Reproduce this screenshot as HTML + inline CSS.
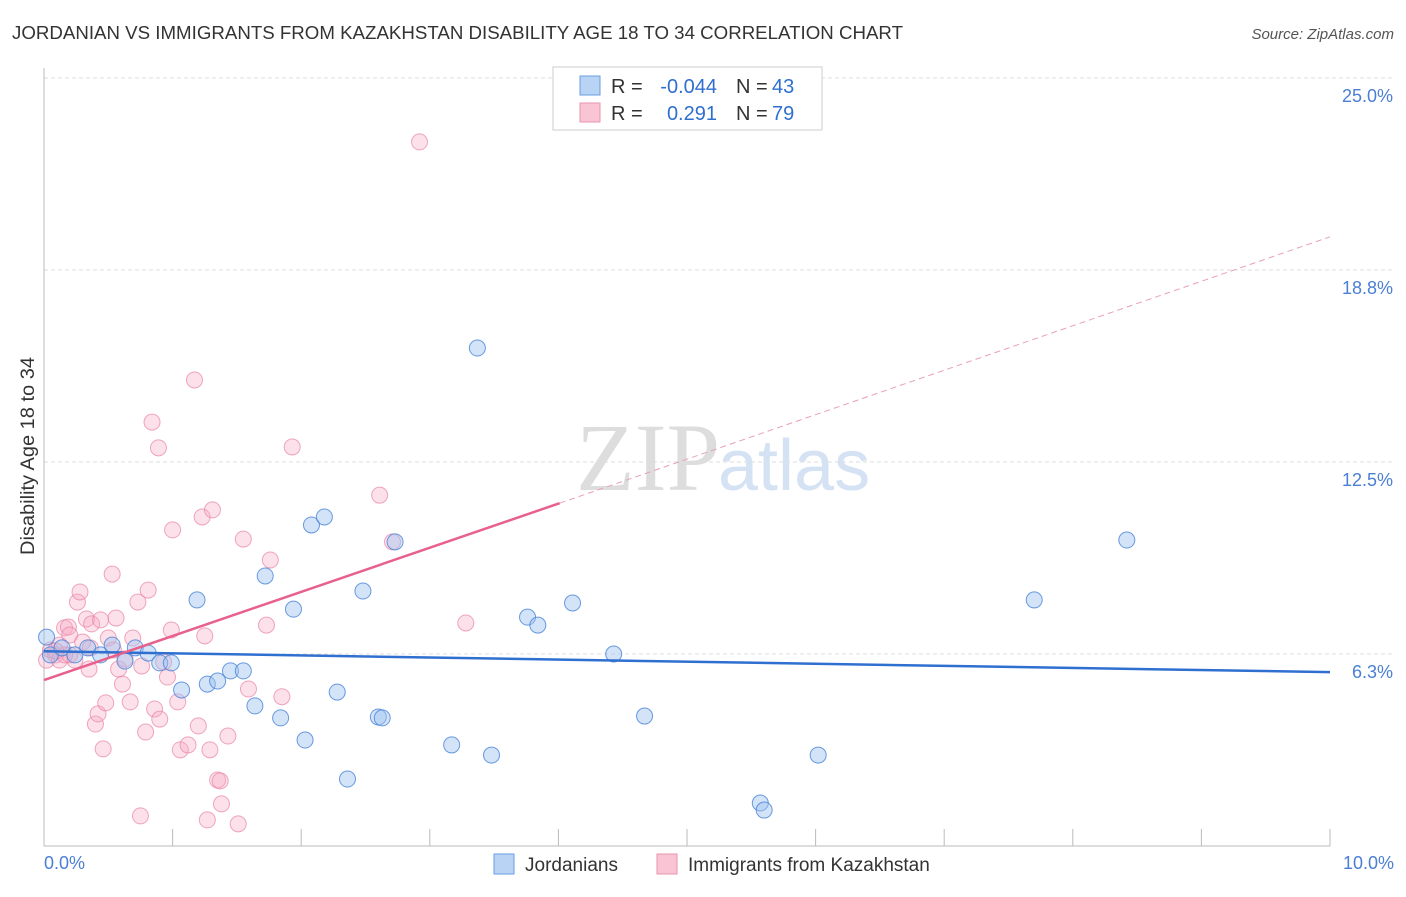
<!DOCTYPE html>
<html><head><meta charset="utf-8"><style>
body{margin:0;background:#fff;font-family:"Liberation Sans",sans-serif;}
</style></head><body>
<svg width="1406" height="892" xmlns="http://www.w3.org/2000/svg">
<text x="12" y="39" font-size="18" fill="#333" textLength="891" lengthAdjust="spacingAndGlyphs">JORDANIAN VS IMMIGRANTS FROM KAZAKHSTAN DISABILITY AGE 18 TO 34 CORRELATION CHART</text>
<text x="1394" y="39" font-size="15" fill="#555" font-style="italic" text-anchor="end">Source: ZipAtlas.com</text>
<g id="grid"></g>
<text x="720" y="490" font-size="96" fill="#ddd" text-anchor="end" font-family="Liberation Serif,serif">ZIP</text>
<text x="718" y="490" font-size="72" fill="#d4e2f4">atlas</text>
<line x1="44" y1="68" x2="44" y2="846" stroke="#bbb"/>
<line x1="44" y1="846" x2="1330" y2="846" stroke="#bbb"/>
<g id="ticks"></g>
<g id="pts"></g>
<g id="lines"></g>
<text x="34" y="456" font-size="19" fill="#333" transform="rotate(-90 34 456)" text-anchor="middle" textLength="198" lengthAdjust="spacingAndGlyphs">Disability Age 18 to 34</text>
<text x="44" y="869" font-size="18" fill="#4a7fd4">0.0%</text>
<text x="1394" y="869" font-size="18" fill="#4a7fd4" text-anchor="end">10.0%</text>
<g>
<rect x="553" y="67" width="269" height="63" fill="#fff" stroke="#ccc"/>
<rect x="580" y="76" width="20" height="19" fill="#b9d3f5" stroke="#6a9ee0"/>
<rect x="580" y="103" width="20" height="19" fill="#f9c4d3" stroke="#e893ad"/>
<text x="611" y="93" font-size="20" fill="#333">R =</text>
<text x="717" y="93" font-size="20" fill="#2f6fd0" text-anchor="end">-0.044</text>
<text x="736" y="93" font-size="20" fill="#333">N =</text>
<text x="772" y="93" font-size="20" fill="#2f6fd0">43</text>
<text x="611" y="120" font-size="20" fill="#333">R =</text>
<text x="717" y="120" font-size="20" fill="#2f6fd0" text-anchor="end">0.291</text>
<text x="736" y="120" font-size="20" fill="#333">N =</text>
<text x="772" y="120" font-size="20" fill="#2f6fd0">79</text>
</g>
<g>
<rect x="494" y="854" width="20" height="20" fill="#b9d3f5" stroke="#6a9ee0"/>
<text x="525" y="871" font-size="19" fill="#333">Jordanians</text>
<rect x="657" y="854" width="20" height="20" fill="#f9c4d3" stroke="#e893ad"/>
<text x="688" y="871" font-size="19" fill="#333">Immigrants from Kazakhstan</text>
</g>
</svg>
<script>
const yTicks=[6.25,12.5,18.75,25];
const yTickLabels=["6.3%","12.5%","18.8%","25.0%"];
const xTicks=[1,2,3,4,5,6,7,8,9,10];
const blueX=[0.02,0.05,0.14,0.24,0.34,0.44,0.53,0.63,0.71,0.81,0.90,0.99,1.07,1.19,1.27,1.35,1.45,1.55,1.64,1.72,1.84,1.94,2.03,2.08,2.18,2.28,2.36,2.48,2.60,2.63,2.73,3.17,3.37,3.48,3.76,3.84,4.11,4.43,4.67,5.57,5.60,6.02,7.70,8.42];
const blueY=[6.80,6.22,6.45,6.22,6.45,6.22,6.54,6.02,6.45,6.28,5.96,5.96,5.08,8.01,5.27,5.37,5.70,5.70,4.56,8.79,4.17,7.71,3.45,10.45,10.71,5.01,2.18,8.30,4.20,4.17,9.90,3.29,16.21,2.96,7.45,7.19,7.91,6.25,4.23,1.40,1.17,2.96,8.01,9.96];
const pinkX=[0.02,0.05,0.09,0.12,0.16,0.19,0.20,0.24,0.26,0.28,0.30,0.33,0.35,0.37,0.40,0.42,0.44,0.46,0.48,0.50,0.53,0.54,0.56,0.58,0.61,0.63,0.67,0.69,0.73,0.75,0.76,0.79,0.81,0.84,0.86,0.89,0.90,0.93,0.96,0.99,1.00,1.04,1.06,1.12,1.17,1.20,1.23,1.25,1.27,1.29,1.31,1.35,1.37,1.38,1.43,1.51,1.55,1.59,1.73,1.76,1.85,1.93,2.61,2.71,2.92,3.28,0.12,0.20,0.36,0.16,0.09];
const pinkY=[6.05,6.38,6.22,6.54,7.10,7.13,6.87,6.05,7.94,8.27,6.64,7.39,5.76,7.23,3.97,4.30,7.36,3.16,4.66,6.77,8.85,6.38,7.42,5.76,5.27,6.09,4.69,6.77,7.94,0.98,5.86,3.71,8.33,13.80,4.46,12.96,4.13,5.99,5.50,7.03,10.29,4.69,3.13,3.29,15.17,3.91,10.71,6.84,0.85,3.13,10.94,2.15,2.12,1.37,3.58,0.72,9.99,5.11,7.19,9.31,4.86,12.99,11.42,9.90,22.92,7.26,6.05,6.22,6.45,6.22,6.35,5.96];
const X0=44,X1=1330,Y0=846,PXY=30.72;
const sx=v=>X0+(X1-X0)*v/10, sy=v=>Y0-v*PXY;
const NS="http://www.w3.org/2000/svg";
function mk(tag,attrs,parent){const e=document.createElementNS(NS,tag);for(const k in attrs)e.setAttribute(k,attrs[k]);document.getElementById(parent).appendChild(e);return e;}
yTicks.forEach((t,i)=>{
 const l=mk('line',{x1:44,x2:1394,y1:sy(t),y2:sy(t),stroke:'#ddd','stroke-dasharray':'4,3'},'grid');
 
 
 const tx=mk('text',{x:1393,y:sy(t)+24,'font-size':18,fill:'#4a7fd4','text-anchor':'end'},'grid');
 tx.textContent=yTickLabels[i];
 
 
});
xTicks.forEach(t=>{
 const l=mk('line',{x1:sx(t),x2:sx(t),y1:829,y2:846,stroke:'#bbb'},'ticks');
 
 
});
pinkX.forEach((x,i)=>{
 const c=mk('circle',{cx:sx(x),cy:sy(pinkY[i]),r:8,fill:'rgba(246,170,195,0.35)',stroke:'rgba(232,130,165,0.7)','stroke-width':1},'pts');
 
 
});
blueX.forEach((x,i)=>{
 const c=mk('circle',{cx:sx(x),cy:sy(blueY[i]),r:8,fill:'rgba(160,195,240,0.45)',stroke:'rgba(70,130,215,0.8)','stroke-width':1},'pts');
 
 
});
const bl=mk('line',{x1:sx(0),y1:sy(6.34),x2:sx(10),y2:sy(5.66),stroke:'#2f6fd0','stroke-width':2.5},'lines');


const pl=mk('line',{x1:sx(0),y1:sy(5.4),x2:sx(4.01),y2:sy(11.16),stroke:'#e8608c','stroke-width':2.5},'lines');


const pd=mk('line',{x1:sx(4.01),y1:sy(11.16),x2:sx(10),y2:sy(19.83),stroke:'#e8a0b8','stroke-width':1,'stroke-dasharray':'6,4'},'lines');


</script>
</body></html>
